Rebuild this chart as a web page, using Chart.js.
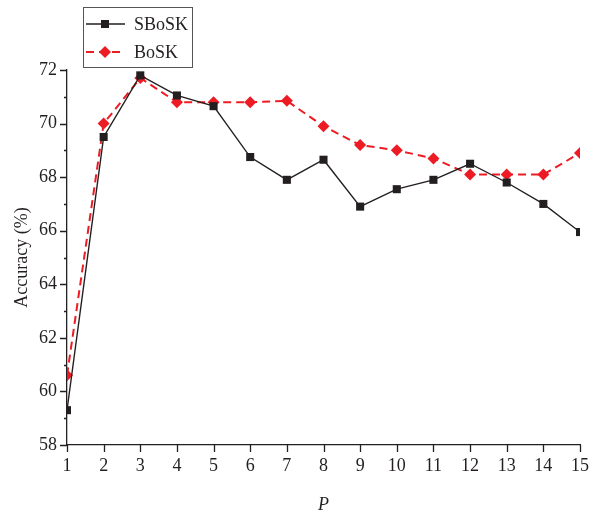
<!DOCTYPE html>
<html>
<head>
<meta charset="utf-8">
<script src="https://cdn.jsdelivr.net/npm/chart.js@4"></script>
<style>
  html, body { margin: 0; padding: 0; background: #fff; }
  #wrap { width: 589px; height: 517px; position: relative; }
</style>
</head>
<body>
<div id="wrap"><canvas id="chart"></canvas></div>
<script>
// values
const pValues = [1, 2, 3, 4, 5, 6, 7, 8, 9, 10, 11, 12, 13, 14, 15];
const sbosk = [59.3, 69.5, 71.8, 71.05, 70.65, 68.75, 67.9, 68.65, 66.9, 67.55, 67.9, 68.5, 67.8, 67.0, 65.95];
const bosk = [60.6, 70.0, 71.7, 70.8, 70.8, 70.8, 70.85, 69.9, 69.2, 69.0, 68.7, 68.1, 68.1, 68.1, 68.9];
const seriesNames = ['SBoSK', 'BoSK'];

const ink = '#231f20';
const red = '#ed1c24';
const serif = "'Liberation Serif', 'Times New Roman', serif";

// outward tick marks: long on labelled values, short on the ones in between
const tickMarks = {
    id: 'tickMarks',
    afterDraw(chart) {
        const { ctx, chartArea, scales } = chart;
        ctx.save();
        ctx.strokeStyle = ink;
        ctx.lineWidth = 1.3;
        ctx.beginPath();
        for (let v = 58; v <= 72; v++) {
            const y = Math.round(scales.y.getPixelForValue(v)) + 0.5;
            const len = v % 2 === 0 ? 7 : 3;
            ctx.moveTo(chartArea.left, y);
            ctx.lineTo(chartArea.left - len, y);
        }
        pValues.forEach(p => {
            const x = Math.round(scales.x.getPixelForValue(p)) + 0.5;
            ctx.moveTo(x, chartArea.bottom);
            ctx.lineTo(x, chartArea.bottom + 7);
        });
        ctx.stroke();
        ctx.restore();
    }
};

// boxed legend with line + marker samples, top left
const boxLegend = {
    id: 'boxLegend',
    afterDraw(chart) {
        const ctx = chart.ctx;
        const bx = 83, by = 7, bw = 109, bh = 60;
        ctx.save();
        ctx.fillStyle = '#fff';
        ctx.fillRect(bx, by, bw, bh);
        ctx.strokeStyle = '#555';
        ctx.lineWidth = 1;
        ctx.strokeRect(bx + 0.5, by + 0.5, bw, bh);
        chart.data.datasets.forEach((ds, i) => {
            const cy = by + 17 + i * 28;
            ctx.strokeStyle = ds.borderColor;
            ctx.lineWidth = ds.borderWidth;
            ctx.setLineDash(ds.borderDash || []);
            ctx.beginPath();
            ctx.moveTo(bx + 3, cy);
            ctx.lineTo(bx + 42, cy);
            ctx.stroke();
            ctx.setLineDash([]);
            ctx.fillStyle = ds.pointBackgroundColor;
            const cx = bx + 22;
            if (ds.pointStyle === 'rect') {
                ctx.fillRect(cx - 4, cy - 4, 8, 8);
            } else {
                ctx.beginPath();
                ctx.moveTo(cx, cy - 6);
                ctx.lineTo(cx + 6, cy);
                ctx.lineTo(cx, cy + 6);
                ctx.lineTo(cx - 6, cy);
                ctx.closePath();
                ctx.fill();
            }
            ctx.fillStyle = ink;
            ctx.font = '18px ' + serif;
            ctx.textBaseline = 'middle';
            ctx.fillText(ds.label, bx + 51, cy + 1);
        });
        ctx.restore();
    }
};

new Chart(document.getElementById('chart'), {
    type: 'line',
    data: {
        datasets: [
            {
                label: seriesNames[0],
                data: pValues.map((p, i) => ({ x: p, y: sbosk[i] })),
                borderColor: ink,
                borderWidth: 1.4,
                pointStyle: 'rect',
                pointRadius: 5.7,
                pointBackgroundColor: ink,
                pointBorderWidth: 0,
                tension: 0,
                clip: 0
            },
            {
                label: seriesNames[1],
                data: pValues.map((p, i) => ({ x: p, y: bosk[i] })),
                borderColor: red,
                borderWidth: 2,
                borderDash: [8, 5],
                pointStyle: 'rectRot',
                pointRadius: 6,
                pointBackgroundColor: red,
                pointBorderWidth: 0,
                tension: 0,
                clip: 0
            }
        ]
    },
    options: {
        responsive: true,
        maintainAspectRatio: false,
        animation: false,
        layout: { padding: { top: 70, right: 9, left: 0, bottom: 0 } },
        plugins: { legend: { display: false }, tooltip: { enabled: false } },
        scales: {
            x: {
                type: 'linear',
                min: 1,
                max: 15,
                grid: { display: false, drawTicks: false },
                border: { display: true, color: ink, width: 1.3 },
                ticks: {
                    stepSize: 1,
                    padding: 10,
                    color: ink,
                    font: { family: serif, size: 18 }
                },
                title: {
                    display: true,
                    text: 'P',
                    color: ink,
                    font: { family: serif, size: 18, style: 'italic' },
                    padding: { top: 0, bottom: 1 }
                },
                afterFit: scale => {
                    scale.height = 72;
                    scale.paddingLeft = 0;
                    scale.paddingRight = 0;
                }
            },
            y: {
                min: 58,
                max: 72,
                grid: { display: false, drawTicks: false },
                border: { display: true, color: ink, width: 1.3 },
                ticks: {
                    stepSize: 2,
                    padding: 10,
                    color: ink,
                    font: { family: serif, size: 18 }
                },
                title: {
                    display: true,
                    text: 'Accuracy (%)',
                    color: ink,
                    font: { family: serif, size: 18 },
                    padding: { top: 11, bottom: 0 }
                },
                afterFit: scale => {
                    scale.width = 67;
                    scale.paddingTop = 0;
                    scale.paddingBottom = 0;
                }
            }
        }
    },
    plugins: [tickMarks, boxLegend]
});
</script>
</body>
</html>
